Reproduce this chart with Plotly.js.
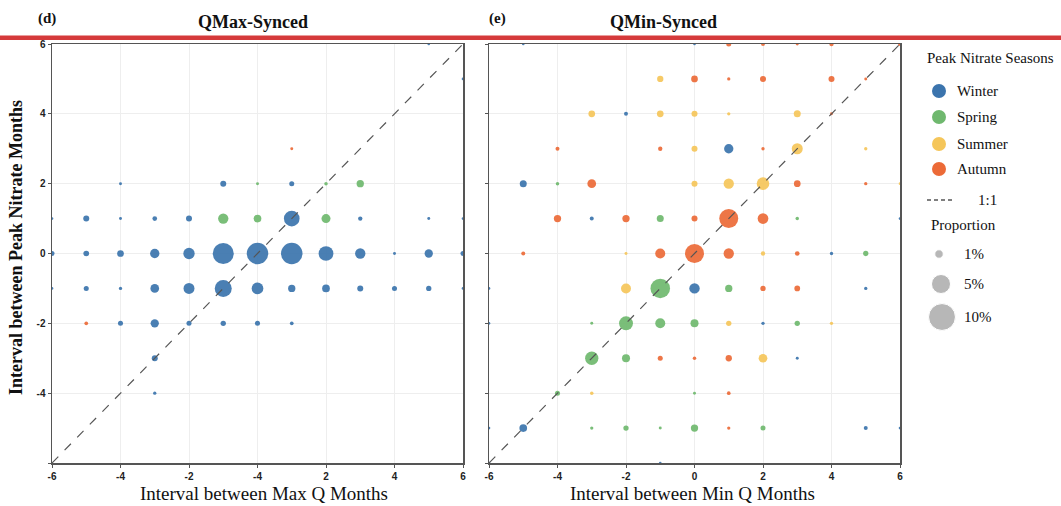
<!DOCTYPE html>
<html><head><meta charset="utf-8">
<script src="https://cdn.plot.ly/plotly-3.0.1.min.js"></script>
<style>html,body{margin:0;padding:0;background:#fff}#chart{width:1061px;height:506px}</style>
</head><body><div id="chart"></div>
<script>
// ---------- data ----------
const seasons = ['Winter', 'Spring', 'Summer', 'Autumn'];
const seasonColors = ['#3b74ad', '#6fb86e', '#f5c65a', '#ec6a37'];

// Panel (d) QMax-Synced : x = interval between max Q months, y = interval between peak nitrate months
const qmaxX = [5, 6, 1,
  -4, -1, 0, 1, 2, 3,
  -6, -5, -4, -3, -2, -1, 0, 1, 2, 3, 5, 6,
  -6, -5, -4, -3, -2, -1, 0, 1, 2, 3, 4, 5, 6,
  -6, -5, -4, -3, -2, -1, 0, 1, 2, 3, 4, 5, 6,
  -5, -4, -3, -2, -1, 0, 1,
  -3, -3];
const qmaxY = [6, 5, 3,
  2, 2, 2, 2, 2, 2,
  1, 1, 1, 1, 1, 1, 1, 1, 1, 1, 1, 1,
  0, 0, 0, 0, 0, 0, 0, 0, 0, 0, 0, 0, 0,
  -1, -1, -1, -1, -1, -1, -1, -1, -1, -1, -1, -1, -1,
  -2, -2, -2, -2, -2, -2, -2,
  -3, -4];
const qmaxPct = [0.08, 0.06, 0.12,
  0.12, 0.5, 0.12, 0.35, 0.17, 0.74,
  0.08, 0.5, 0.12, 0.3, 0.5, 1.47, 0.82, 3.4, 1.12, 0.26, 0.12, 0.08,
  0.35, 0.45, 0.62, 1.2, 1.77, 6.1, 6.4, 6.4, 3.0, 1.47, 0.12, 0.95, 0.35,
  0.08, 0.35, 0.15, 1.05, 1.67, 4.0, 1.9, 0.74, 0.82, 0.5, 0.35, 0.39, 0.08,
  0.19, 0.35, 0.95, 0.35, 0.39, 0.35, 0.19,
  0.5, 0.15];
const qmaxSeason = ['Winter', 'Winter', 'Autumn',
  'Winter', 'Winter', 'Spring', 'Winter', 'Spring', 'Spring',
  'Winter', 'Winter', 'Winter', 'Winter', 'Winter', 'Spring', 'Spring', 'Winter', 'Spring', 'Winter', 'Winter', 'Winter',
  'Winter', 'Winter', 'Winter', 'Winter', 'Winter', 'Winter', 'Winter', 'Winter', 'Winter', 'Winter', 'Winter', 'Winter', 'Winter',
  'Winter', 'Winter', 'Winter', 'Winter', 'Winter', 'Winter', 'Winter', 'Winter', 'Winter', 'Winter', 'Winter', 'Winter', 'Winter',
  'Autumn', 'Winter', 'Winter', 'Winter', 'Winter', 'Winter', 'Winter',
  'Winter', 'Winter'];

// Panel (e) QMin-Synced
const qminX = [-5, 0, 1, 2, 3, 4, 6,
  -1, 0, 1, 2, 4, 5,
  -3, -2, -1, 0, 1, 3, 4,
  -4, -1, 0, 1, 2, 3, 5,
  -5, -4, -3, 0, 1, 2, 3, 5, 6,
  -4, -3, -2, -1, 0, 1, 2, 3, 6,
  -5, -2, -1, 0, 1, 2, 3, 4, 5,
  -6, -2, -1, 0, 1, 2, 3, 5,
  -6, -3, -2, -1, 0, 1, 2, 3, 4,
  -3, -2, -1, 0, 1, 2, 3,
  -4, -3, 0, 1,
  -6, -5, -3, -2, -1, 0, 1, 2, 5, 6,
  -6, -1];
const qminY = [6, 6, 6, 6, 6, 6, 6,
  5, 5, 5, 5, 5, 5,
  4, 4, 4, 4, 4, 4, 4,
  3, 3, 3, 3, 3, 3, 3,
  2, 2, 2, 2, 2, 2, 2, 2, 2,
  1, 1, 1, 1, 1, 1, 1, 1, 1,
  0, 0, 0, 0, 0, 0, 0, 0, 0,
  -1, -1, -1, -1, -1, -1, -1, -1,
  -2, -2, -2, -2, -2, -2, -2, -2, -2,
  -3, -3, -3, -3, -3, -3, -3,
  -4, -4, -4, -4,
  -5, -5, -5, -5, -5, -5, -5, -5, -5, -5,
  -6, -6];
const qminPct = [0.08, 0.08, 0.35, 0.22, 0.12, 0.26, 0.22,
  0.55, 0.62, 0.15, 0.5, 0.5, 0.12,
  0.62, 0.22, 0.62, 0.5, 0.15, 0.68, 0.12,
  0.22, 0.26, 0.5, 1.2, 0.15, 1.67, 0.15,
  0.68, 0.17, 1.05, 0.5, 1.47, 2.2, 0.62, 0.15, 0.08,
  0.74, 0.22, 0.74, 0.68, 0.5, 5.0, 1.58, 0.17, 0.08,
  0.22, 0.12, 1.38, 5.0, 1.47, 0.26, 0.3, 0.15, 0.39,
  0.08, 1.38, 5.3, 1.5, 0.74, 0.39, 0.45, 0.15,
  0.08, 0.12, 2.7, 1.38, 0.89, 0.39, 0.15, 0.39, 0.15,
  2.45, 0.89, 0.35, 0.17, 0.55, 1.05, 0.12,
  0.35, 0.17, 0.12, 0.19,
  0.08, 0.82, 0.15, 0.39, 0.12, 0.74, 0.15, 0.35, 0.22, 0.08,
  0.08, 0.08];
const qminSeason = ['Winter', 'Winter', 'Autumn', 'Autumn', 'Autumn', 'Autumn', 'Autumn',
  'Summer', 'Autumn', 'Autumn', 'Autumn', 'Autumn', 'Autumn',
  'Summer', 'Winter', 'Summer', 'Summer', 'Summer', 'Summer', 'Autumn',
  'Autumn', 'Autumn', 'Summer', 'Winter', 'Autumn', 'Summer', 'Summer',
  'Winter', 'Spring', 'Autumn', 'Summer', 'Summer', 'Summer', 'Autumn', 'Autumn', 'Summer',
  'Autumn', 'Winter', 'Autumn', 'Spring', 'Autumn', 'Autumn', 'Autumn', 'Spring', 'Winter',
  'Autumn', 'Summer', 'Autumn', 'Autumn', 'Autumn', 'Summer', 'Autumn', 'Winter', 'Spring',
  'Winter', 'Summer', 'Spring', 'Winter', 'Spring', 'Autumn', 'Autumn', 'Winter',
  'Winter', 'Spring', 'Spring', 'Spring', 'Spring', 'Summer', 'Winter', 'Spring', 'Summer',
  'Spring', 'Spring', 'Autumn', 'Autumn', 'Autumn', 'Summer', 'Winter',
  'Spring', 'Summer', 'Spring', 'Autumn',
  'Winter', 'Winter', 'Spring', 'Spring', 'Spring', 'Spring', 'Autumn', 'Spring', 'Winter', 'Winter',
  'Winter', 'Winter'];

const tickVals = [-6, -4, -2, 0, 2, 4, 6];
const qmaxXTickText = ['-6', '-4', '-2', '-4', '2', '4', '6'];
const qmaxYTickText = ['', '-4', '-2', '0', '2', '4', '6'];
const qminXTickText = ['-6', '-4', '-2', '0', '2', '4', '6'];
const legendPct = [1, 5, 10];
const legendPctText = ['1%', '5%', '10%'];
const oneToOne = [-6, 6];

// ---------- styling ----------
const SIZEREF = 0.0277;
const serif = 'Liberation Serif, Times New Roman, serif';
const sans = 'Liberation Sans, Arial, sans-serif';

const traces = [];
function addPanel(xs, ys, ps, ss, xa, ya) {
  seasons.forEach((s, i) => {
    const idx = ss.map((v, k) => v === s ? k : -1).filter(k => k >= 0);
    if (!idx.length) return;
    traces.push({
      type: 'scatter', mode: 'markers', xaxis: xa, yaxis: ya, showlegend: false,
      x: idx.map(k => xs[k]), y: idx.map(k => ys[k]),
      marker: { size: idx.map(k => ps[k]), sizemode: 'area', sizeref: SIZEREF, sizemin: 1.3,
        color: seasonColors[i], opacity: 0.92, line: { width: 0 } },
      hoverinfo: 'skip'
    });
  });
  traces.push({
    type: 'scatter', mode: 'lines', xaxis: xa, yaxis: ya, showlegend: false,
    x: oneToOne, y: oneToOne, line: { color: '#555', width: 1.2, dash: 'dash' }, hoverinfo: 'skip'
  });
}
addPanel(qmaxX, qmaxY, qmaxPct, qmaxSeason, 'x', 'y');
addPanel(qminX, qminY, qminPct, qminSeason, 'x2', 'y2');

// legend drawn in a pixel-scaled helper axis
const LX = 939;
const seasonRowY = [91, 117, 144, 169];
seasons.forEach((s, i) => {
  traces.push({
    type: 'scatter', mode: 'markers', xaxis: 'x3', yaxis: 'y3', showlegend: false, cliponaxis: false,
    x: [LX], y: [seasonRowY[i]], marker: { size: 14, color: seasonColors[i] }, hoverinfo: 'skip'
  });
});
traces.push({
  type: 'scatter', mode: 'lines', xaxis: 'x3', yaxis: 'y3', showlegend: false, cliponaxis: false,
  x: [927, 953], y: [200, 200], line: { color: '#555', width: 1.5, dash: '4px,3px' }, hoverinfo: 'skip'
});
const pctRowY = [254, 284, 317];
traces.push({
  type: 'scatter', mode: 'markers', xaxis: 'x3', yaxis: 'y3', showlegend: false, cliponaxis: false,
  x: [LX, LX + 2, LX + 3], y: pctRowY,
  marker: { size: legendPct, sizemode: 'area', sizeref: SIZEREF, color: '#999999' }, hoverinfo: 'skip'
});

const annotations = [];
function txt(t, x, y, opts) {
  annotations.push(Object.assign({ text: t, x: x, y: y, xref: 'x3', yref: 'y3', showarrow: false,
    xanchor: 'left', yanchor: 'middle', font: { family: serif, size: 15, color: '#111' } }, opts || {}));
}
txt('Peak Nitrate Seasons', 990, 58, { xanchor: 'center' });
seasons.forEach((s, i) => txt(s, 955, seasonRowY[i]));
txt('1:1', 976, 200);
txt('Proportion', 929, 225);
legendPctText.forEach((t, i) => txt(t, 962, pctRowY[i]));

function ptxt(t, px, py, font, extra) {
  annotations.push(Object.assign({ text: t, x: px / 1061, y: 1 - py / 506, xref: 'paper', yref: 'paper',
    showarrow: false, xanchor: 'center', yanchor: 'middle', font: font }, extra || {}));
}
ptxt('<b>(d)</b>', 47, 18, { family: serif, size: 15, color: '#111' });
ptxt('<b>QMax-Synced</b>', 253, 22, { family: serif, size: 18, color: '#111' });
ptxt('<b>(e)</b>', 497, 18, { family: serif, size: 15, color: '#111' });
ptxt('<b>QMin-Synced</b>', 663, 22, { family: serif, size: 18, color: '#111' });
ptxt('Interval between Max Q Months', 264, 493, { family: serif, size: 19, color: '#111' });
ptxt('Interval between Min Q Months', 692, 493, { family: serif, size: 19, color: '#111' });
ptxt('<b>Interval between Peak Nitrate Months</b>', 16, 248, { family: serif, size: 18, color: '#111' }, { textangle: -90 });

const axisBase = {
  range: [-6, 6], tickmode: 'array', tickvals: tickVals, showgrid: true, gridcolor: '#eeeeee', gridwidth: 1,
  zeroline: false, showline: true, linecolor: '#555', linewidth: 1.5, mirror: true,
  ticks: 'outside', ticklen: 3, tickcolor: '#555', tickwidth: 1,
  tickfont: { family: sans, size: 10, color: '#222', weight: 'bold' }, fixedrange: true
};
const yTop = 1 - 44 / 506, yBot = 1 - 463 / 506;

const layout = {
  width: 1061, height: 506, margin: { l: 0, r: 0, t: 0, b: 0 },
  paper_bgcolor: '#fff', plot_bgcolor: '#fff', showlegend: false,
  xaxis: Object.assign({}, axisBase, { domain: [52 / 1061, 463 / 1061], anchor: 'y', ticktext: qmaxXTickText }),
  yaxis: Object.assign({}, axisBase, { domain: [yBot, yTop], anchor: 'x', ticktext: qmaxYTickText }),
  xaxis2: Object.assign({}, axisBase, { domain: [489 / 1061, 900 / 1061], anchor: 'y2', ticktext: qminXTickText }),
  yaxis2: Object.assign({}, axisBase, { domain: [yBot, yTop], anchor: 'x2', ticktext: qminXTickText, showticklabels: false }),
  xaxis3: { domain: [906 / 1061, 1], range: [906, 1061], visible: false, fixedrange: true, anchor: 'y3' },
  yaxis3: { domain: [0, 1], range: [506, 0], visible: false, fixedrange: true, anchor: 'x3' },
  shapes: [{ type: 'rect', xref: 'paper', yref: 'paper', x0: 0, x1: 1, y0: 1 - 40 / 506, y1: 1 - 35.5 / 506,
    fillcolor: '#d53a3b', line: { width: 0 }, layer: 'above' }],
  annotations: annotations
};

Plotly.newPlot('chart', traces, layout, { displayModeBar: false, staticPlot: true });
</script>
</body></html>
